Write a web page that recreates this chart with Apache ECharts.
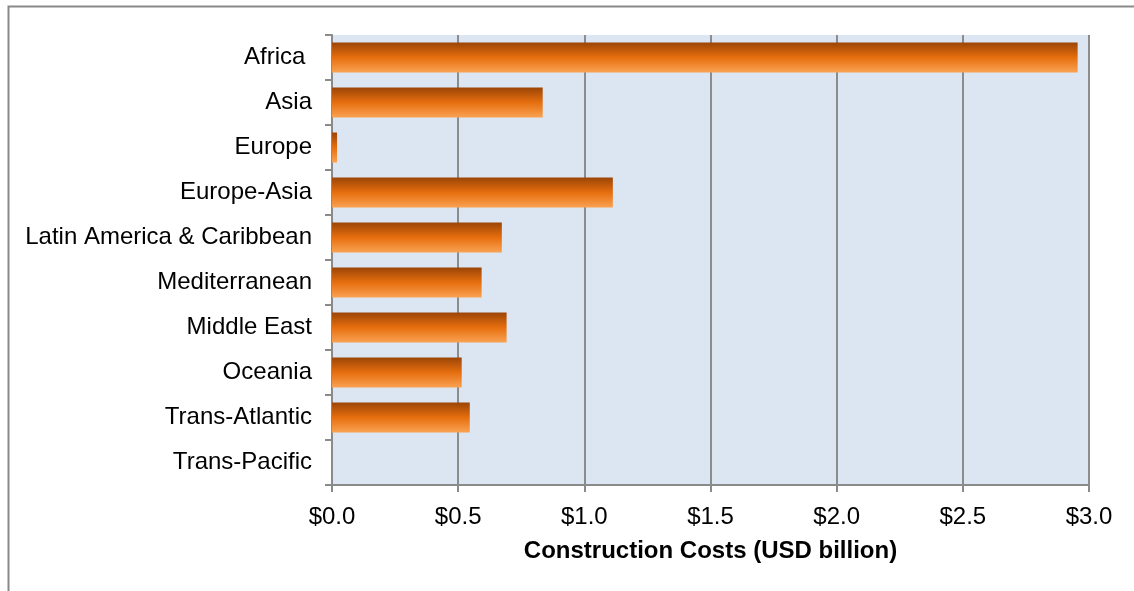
<!DOCTYPE html>
<html>
<head>
<meta charset="utf-8">
<script src="https://cdn.jsdelivr.net/npm/echarts@6/dist/echarts.min.js"></script>
<style>
  html, body { margin: 0; padding: 0; background: #ffffff; }
  #chart { width: 1134px; height: 591px; }
</style>
</head>
<body>
<div id="chart"></div>
<script>
// Regions, listed top to bottom
const regions = ['Africa ', 'Asia', 'Europe', 'Europe-Asia', 'Latin America & Caribbean',
  'Mediterranean', 'Middle East', 'Oceania', 'Trans-Atlantic', 'Trans-Pacific'];
// Construction costs per region, USD billion
const costs = [2.955, 0.835, 0.02, 1.113, 0.673, 0.593, 0.692, 0.514, 0.546, 0];
// Value axis tick labels
const tickLabels = ['$0.0', '$0.5', '$1.0', '$1.5', '$2.0', '$2.5', '$3.0'];
const axisTitle = 'Construction Costs (USD billion)';

const FONT = 'Liberation Sans, Arial, sans-serif';
const chart = echarts.init(document.getElementById('chart'), null, { renderer: 'canvas' });

chart.setOption({
  animation: false,
  backgroundColor: '#ffffff',
  graphic: [{
    type: 'rect',
    left: 6, top: 4,
    shape: { width: 1200, height: 700 },
    style: { fill: 'none', stroke: '#898989', lineWidth: 2 },
    silent: true
  }],
  grid: {
    left: 332, top: 35, right: 45, bottom: 106,
    show: true, backgroundColor: '#dce6f2', borderWidth: 0
  },
  xAxis: {
    type: 'value',
    min: 0, max: 3, interval: 0.5,
    name: axisTitle,
    nameLocation: 'middle',
    nameGap: 54,
    nameTextStyle: { fontFamily: FONT, fontSize: 24, fontWeight: 'bold', color: '#000' },
    axisLine: { show: true, lineStyle: { color: '#8a8a8a', width: 2 } },
    axisTick: { show: true, length: 7, lineStyle: { color: '#8a8a8a', width: 2 } },
    axisLabel: {
      margin: 20,
      fontFamily: FONT, fontSize: 24, color: '#000',
      formatter: (v) => tickLabels[Math.round(v / 0.5)]
    },
    splitLine: { show: true, lineStyle: { color: '#8c8c8c', width: 2 } }
  },
  yAxis: {
    type: 'category',
    data: regions,
    inverse: true,
    axisLine: { show: true, lineStyle: { color: '#8a8a8a', width: 2 } },
    axisTick: { show: true, length: 7, alignWithLabel: false, lineStyle: { color: '#8a8a8a', width: 2 } },
    axisLabel: { margin: 20, fontFamily: FONT, fontSize: 24, color: '#000', padding: [3, 0, 0, 0] },
    splitLine: { show: false }
  },
  series: [{
    type: 'bar',
    data: costs,
    barWidth: 30,
    itemStyle: {
      color: new echarts.graphic.LinearGradient(0, 0, 0, 1, [
        { offset: 0, color: '#9b4507' },
        { offset: 0.5, color: '#e66e0e' },
        { offset: 1, color: '#f9a253' }
      ])
    }
  }]
});
</script>
</body>
</html>
